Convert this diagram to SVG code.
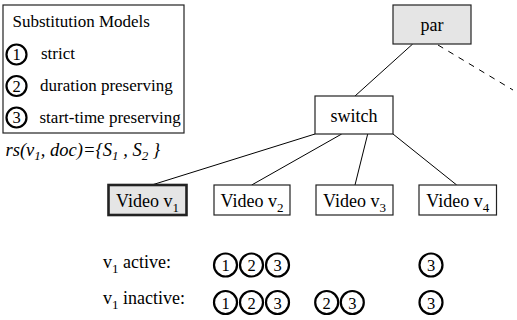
<svg xmlns="http://www.w3.org/2000/svg" width="517" height="320" viewBox="0 0 517 320" font-family="'Liberation Serif', 'Times New Roman', serif">
<style>
text{font-family:'Liberation Serif','Times New Roman',serif;fill:#000}
.box{fill:#fff;stroke:#222;stroke-width:1.2}
.gray{fill:#e5e5e5}
.lg{font-size:17px}
.nd{font-size:18px;text-anchor:middle}
.sub{font-size:13px}
.c{fill:#fff;stroke:#000;stroke-width:2.2}
.cd{font-size:16.5px;text-anchor:middle}
.edge{stroke:#000;stroke-width:1;fill:none}
</style>
<g id="legend">
<rect class="box" x="3" y="5" width="181" height="128"/>
<text class="lg" x="12.5" y="26.5">Substitution Models</text>
<circle class="c" cx="16.5" cy="54.5" r="10"/><text class="cd" x="16.5" y="60">1</text>
<text class="lg" x="41" y="59">strict</text>
<circle class="c" cx="16.5" cy="86" r="10"/><text class="cd" x="16.5" y="91.5">2</text>
<text class="lg" x="40" y="91">duration preserving</text>
<circle class="c" cx="16.5" cy="117.5" r="10"/><text class="cd" x="16.5" y="123">3</text>
<text class="lg" x="39.5" y="122.5">start-time preserving</text>
</g>
<g id="rs">
<text style="font-size:18.5px;font-style:italic" x="5.5" y="155.5">rs(v<tspan class="sub" dy="4">1</tspan><tspan dy="-4">, doc)={S</tspan><tspan class="sub" dy="4">1</tspan><tspan dy="-4"> , S</tspan><tspan class="sub" dy="4">2</tspan><tspan dy="-4"> }</tspan></text>
</g>
<g id="connectors">
<line class="edge" x1="412.7" y1="44" x2="355" y2="96"/>
<line class="edge" x1="438" y1="45" x2="513" y2="90" stroke-dasharray="6,6"/>
<line class="edge" x1="315" y1="134" x2="151.7" y2="185"/>
<line class="edge" x1="341.7" y1="134" x2="251.7" y2="185"/>
<line class="edge" x1="367.7" y1="134" x2="355" y2="185"/>
<line class="edge" x1="393" y1="134" x2="456.7" y2="185"/>
</g>
<g id="par">
<rect class="box gray" x="393" y="5" width="78" height="39"/>
<text class="nd" x="432" y="31">par</text>
</g>
<g id="switch">
<rect class="box" x="315" y="96" width="78" height="38"/>
<text class="nd" x="354" y="121.5">switch</text>
</g>
<g id="v1">
<rect class="box gray" x="108.5" y="185" width="78" height="30" style="stroke-width:2.6"/>
<text class="nd" x="147.5" y="207">Video v<tspan class="sub" dy="5">1</tspan></text>
</g>
<g id="v2">
<rect class="box" x="214" y="185" width="76" height="30"/>
<text class="nd" x="252" y="207">Video v<tspan class="sub" dy="5">2</tspan></text>
</g>
<g id="v3">
<rect class="box" x="316" y="185" width="77" height="30"/>
<text class="nd" x="354.5" y="207">Video v<tspan class="sub" dy="5">3</tspan></text>
</g>
<g id="v4">
<rect class="box" x="419" y="185" width="77.5" height="30"/>
<text class="nd" x="457.7" y="207">Video v<tspan class="sub" dy="5">4</tspan></text>
</g>
<g id="labels">
<text style="font-size:18px" x="103" y="268">v<tspan class="sub" dy="5">1</tspan><tspan dy="-5"> active:</tspan></text>
<text style="font-size:18px" x="103" y="304">v<tspan class="sub" dy="5">1</tspan><tspan dy="-5"> inactive:</tspan></text>
</g>
<g id="active-row">
<circle class="c" cx="225.5" cy="265" r="11.5"/><text class="cd" x="225.5" y="271">1</text>
<circle class="c" cx="251.5" cy="265" r="11.5"/><text class="cd" x="251.5" y="271">2</text>
<circle class="c" cx="277.5" cy="265" r="11.5"/><text class="cd" x="277.5" y="271">3</text>
<circle class="c" cx="431" cy="265" r="11.5"/><text class="cd" x="431" y="271">3</text>
</g>
<g id="inactive-row">
<circle class="c" cx="225.5" cy="302.5" r="11.5"/><text class="cd" x="225.5" y="308.5">1</text>
<circle class="c" cx="251.5" cy="302.5" r="11.5"/><text class="cd" x="251.5" y="308.5">2</text>
<circle class="c" cx="277.5" cy="302.5" r="11.5"/><text class="cd" x="277.5" y="308.5">3</text>
<circle class="c" cx="326.7" cy="302.5" r="11.5"/><text class="cd" x="326.7" y="308.5">2</text>
<circle class="c" cx="352.3" cy="302.5" r="11.5"/><text class="cd" x="352.3" y="308.5">3</text>
<circle class="c" cx="431" cy="302.5" r="11.5"/><text class="cd" x="431" y="308.5">3</text>
</g>
</svg>
